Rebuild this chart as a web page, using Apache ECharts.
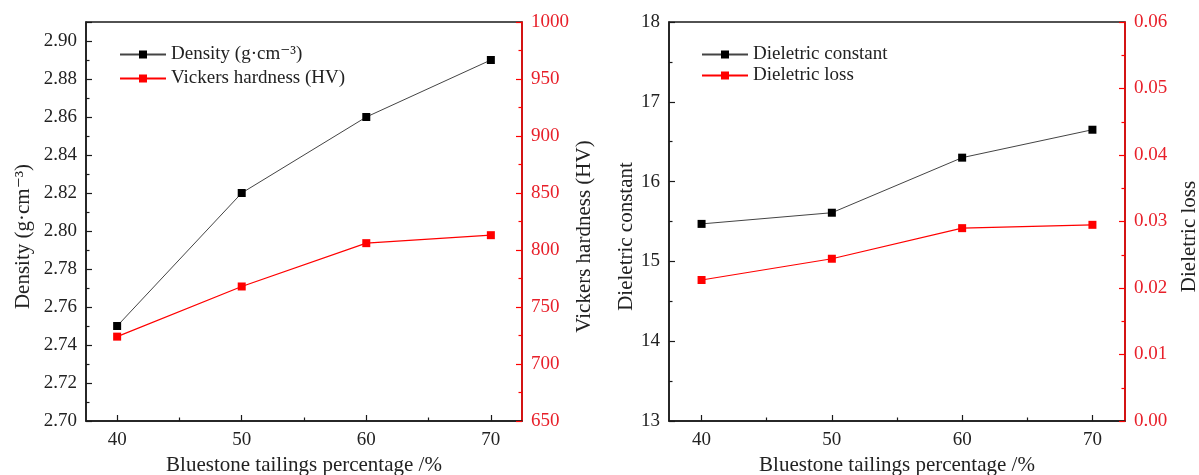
<!DOCTYPE html>
<html>
<head>
<meta charset="utf-8">
<script src="https://cdn.jsdelivr.net/npm/echarts@6/dist/echarts.min.js"></script>
<style>
html,body{margin:0;padding:0;background:#fff;}
#chart{width:1199px;height:475px;}
</style>
</head>
<body>
<div id="chart"></div>
<script>
// ---- data ----
const percentages = [40, 50, 60, 70];
const xMajorTicks = [40, 50, 60, 70];
const xMinorTicks = [45, 55, 65];
const density = [2.75, 2.82, 2.86, 2.89];
const vickers = [724, 768, 806, 813];
const dielConst = [15.47, 15.61, 16.30, 16.65];
const dielLoss = [0.0212, 0.0244, 0.0290, 0.0295];

const xTitle = 'Bluestone tailings percentage /%';
const densityName = 'Density (g·cm⁻³)';
const vickersName = 'Vickers hardness (HV)';
const constName = 'Dieletric constant';
const lossName = 'Dieletric loss';

// ---- styling ----
const FONT = "'Liberation Serif', 'Times New Roman', 'DejaVu Serif', serif";
const BLACK = '#1a1a1a';
const RED = '#ff0000';
const RED_TXT = '#e8202a';
const TICK_FS = 19;
const TITLE_FS = 21;
const LEGEND_FS = 19;

function pairs(xs, ys) { return xs.map((x, i) => [x, ys[i]]); }

function xAxesFor(gi) {
  return [
    {
      gridIndex: gi, type: 'value', position: 'bottom', min: 37.5, max: 72.5,
      axisLine: { show: true, lineStyle: { color: BLACK, width: 1.5 } },
      axisTick: { show: true, inside: true, length: 6, customValues: xMajorTicks, lineStyle: { color: BLACK, width: 1.2 } },
      axisLabel: { show: true, customValues: xMajorTicks, margin: 10, fontFamily: FONT, fontSize: TICK_FS, color: '#222' },
      splitLine: { show: false },
      name: xTitle, nameLocation: 'middle', nameGap: 33,
      nameTextStyle: { fontFamily: FONT, fontSize: TITLE_FS, color: '#222' }
    },
    {
      gridIndex: gi, type: 'value', position: 'bottom', min: 37.5, max: 72.5,
      axisLine: { show: false },
      axisTick: { show: true, inside: true, length: 3.5, customValues: xMinorTicks, lineStyle: { color: BLACK, width: 1.2 } },
      axisLabel: { show: false },
      splitLine: { show: false }
    }
  ];
}

function yAxis(gi, pos, min, max, interval, color, txtColor, decimals, name, nameGap) {
  return {
    gridIndex: gi, type: 'value', position: pos, min: min, max: max, interval: interval,
    axisLine: { show: true, lineStyle: { color: color, width: 1.5 } },
    axisTick: { show: true, inside: true, length: 6, lineStyle: { color: color, width: 1.2 } },
    minorTick: { show: true, splitNumber: 2, length: 3.5, lineStyle: { color: color, width: 1.2 } },
    axisLabel: {
      show: true, margin: 9, fontFamily: FONT, fontSize: TICK_FS, color: txtColor,
      showMaxLabel: Math.abs(Math.round(max / interval) * interval - max) < 1e-9,
      formatter: v => Number(v).toFixed(decimals)
    },
    splitLine: { show: false }, minorSplitLine: { show: false },
    name: name, nameLocation: 'middle', nameGap: nameGap,
    nameTextStyle: { fontFamily: FONT, fontSize: TITLE_FS, color: '#222', padding: [0, 30, 0, 0] }
  };
}

const chart = echarts.init(document.getElementById('chart'), null, { renderer: 'canvas' });

chart.setOption({
  animation: false,
  backgroundColor: '#fff',
  grid: [
    { left: 86, top: 22, width: 436, height: 399, outerBoundsMode: 'none', containLabel: false,
      show: true, borderColor: BLACK, borderWidth: 1.5, backgroundColor: 'transparent' },
    { left: 669, top: 22, width: 456, height: 399, outerBoundsMode: 'none', containLabel: false,
      show: true, borderColor: BLACK, borderWidth: 1.5, backgroundColor: 'transparent' }
  ],
  legend: [
    {
      data: [densityName, vickersName], left: 114, top: 40, orient: 'vertical',
      itemWidth: 46, itemHeight: 10, itemGap: 5,
      textStyle: { fontFamily: FONT, fontSize: LEGEND_FS, color: '#222' }
    },
    {
      data: [constName, lossName], left: 696, top: 40, orient: 'vertical',
      itemWidth: 46, itemHeight: 10, itemGap: 2,
      textStyle: { fontFamily: FONT, fontSize: LEGEND_FS, color: '#222' }
    }
  ],
  xAxis: [].concat(xAxesFor(0), xAxesFor(1)),
  yAxis: [
    yAxis(0, 'left', 2.70, 2.91, 0.02, BLACK, '#222', 2, densityName, 52),
    yAxis(0, 'right', 650, 1000, 50, RED, RED_TXT, 0, vickersName, 52),
    yAxis(1, 'left', 13, 18, 1, BLACK, '#222', 0, constName, 30),
    yAxis(1, 'right', 0, 0.06, 0.01, RED, RED_TXT, 2, lossName, 54)
  ],
  series: [
    { name: densityName, type: 'line', xAxisIndex: 0, yAxisIndex: 0, data: pairs(percentages, density),
      symbol: 'rect', symbolSize: 8, lineStyle: { color: '#444', width: 1 }, itemStyle: { color: '#000' } },
    { name: vickersName, type: 'line', xAxisIndex: 0, yAxisIndex: 1, data: pairs(percentages, vickers),
      symbol: 'rect', symbolSize: 8, lineStyle: { color: RED, width: 1.2 }, itemStyle: { color: RED } },
    { name: constName, type: 'line', xAxisIndex: 2, yAxisIndex: 2, data: pairs(percentages, dielConst),
      symbol: 'rect', symbolSize: 8, lineStyle: { color: '#444', width: 1 }, itemStyle: { color: '#000' } },
    { name: lossName, type: 'line', xAxisIndex: 2, yAxisIndex: 3, data: pairs(percentages, dielLoss),
      symbol: 'rect', symbolSize: 8, lineStyle: { color: RED, width: 1.2 }, itemStyle: { color: RED } }
  ]
});
</script>
</body>
</html>
